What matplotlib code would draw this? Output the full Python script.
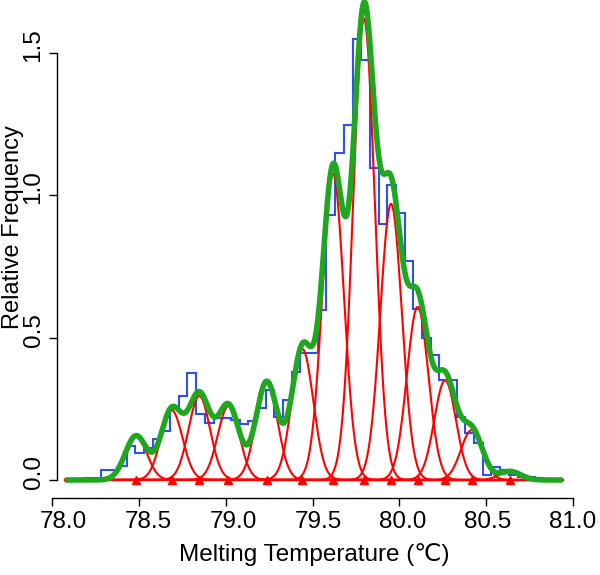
import numpy as np
import matplotlib
matplotlib.use("Agg")
import matplotlib.pyplot as plt
from matplotlib.transforms import ScaledTranslation

plt.rcParams['font.family'] = ['Liberation Sans', 'DejaVu Sans']

# histogram of melting temperatures (bin left edges 0.05 wide)
bin_edges = np.round(np.arange(78.18, 80.84, 0.05), 2)
hist_vals = [0.008, 0.008, 0.035, 0.035, 0.049, 0.120, 0.094, 0.114, 0.143, 0.172,
             0.250, 0.295, 0.375, 0.231, 0.201, 0.217, 0.217, 0.211, 0.197, 0.208,
             0.252, 0.316, 0.222, 0.281, 0.380, 0.445, 0.445, 0.597, 0.931, 1.148,
             1.247, 1.548, 1.475, 1.095, 0.900, 1.036, 0.937, 0.769, 0.600, 0.500,
             0.440, 0.350, 0.350, 0.222, 0.164, 0.129, 0.018, 0.047, 0.035, 0.018,
             0.010, 0.010, 0.007]

# fitted gaussian components
peak_centers = [78.484, 78.689, 78.848, 79.016, 79.236, 79.442, 79.618,
                79.796, 79.952, 80.105, 80.263, 80.416, 80.637]
peak_heights = [0.155, 0.245, 0.295, 0.260, 0.345, 0.460, 1.077,
                1.620, 0.970, 0.608, 0.350, 0.175, 0.030]
peak_sigmas = [0.062, 0.062, 0.062, 0.062, 0.062, 0.062, 0.062,
               0.062, 0.062, 0.062, 0.062, 0.062, 0.062]
fit_range = (78.075, 80.94)

x_ticks = [78.0, 78.5, 79.0, 79.5, 80.0, 80.5, 81.0]
x_ticklabels = ['78.0', '78.5', '79.0', '79.5', '80.0', '80.5', '81.0']
y_ticks = [0.0, 0.5, 1.0, 1.5]
y_ticklabels = ['0.0', '0.5', '1.0', '1.5']

xs = np.linspace(fit_range[0], fit_range[1], 800)
comps = [h * np.exp(-(xs - c) ** 2 / (2 * s ** 2))
         for c, h, s in zip(peak_centers, peak_heights, peak_sigmas)]
total = np.sum(comps, axis=0)

fig = plt.figure(figsize=(6, 5.75), dpi=100)
W, H = 600, 575
ax = fig.add_axes([52 / W, (H - 498) / H, 528 / W, 498 / H])

ax.stairs(hist_vals, bin_edges[:len(hist_vals) + 1], baseline=None,
          color='#2D50F5', linewidth=1.5)
for comp in comps:
    ax.plot(xs, comp, color='#FF0000', linewidth=1.5)
ax.plot(peak_centers, np.zeros(len(peak_centers)), linestyle='none', marker='^',
        color='#FF0000', markersize=6)
ax.plot(xs, total, color='#1FA81F', linewidth=4, clip_on=False,
        solid_capstyle='butt')

ax.set_xlim(78.0, 78.0 + 528 / 173.7)
ax.set_ylim((480 - 498) / 284.7, 480 / 284.7)
ax.spines['top'].set_visible(False)
ax.spines['right'].set_visible(False)
ax.spines['left'].set_position(('data', 78.0 + 5 / 173.7))
ax.spines['left'].set_bounds(0, 1.5)
ax.spines['bottom'].set_bounds(78, 81)
for sp in ('left', 'bottom'):
    ax.spines[sp].set_linewidth(1.0)
ax.set_xticks(x_ticks)
ax.set_xticklabels(x_ticklabels)
ax.set_yticks(y_ticks)
ax.set_yticklabels(y_ticklabels, rotation=90, va='center')
ax.tick_params(length=6, width=1.0, labelsize=17.5, pad=3)
ax.patch.set_visible(False)

# nudge tick labels like in the original rendering
n = len(x_ticks)
for i, lbl in enumerate(ax.get_xticklabels()):
    dx = 11 * (1 - i / (n - 1)) / 100
    lbl.set_transform(lbl.get_transform() + ScaledTranslation(dx, 0, fig.dpi_scale_trans))
for lbl in ax.get_yticklabels():
    lbl.set_transform(lbl.get_transform() + ScaledTranslation(0, 0.08, fig.dpi_scale_trans))

fig.text(314 / W, 1 - 555 / H, 'Melting Temperature (\u2103)', ha='center', va='center',
         fontsize=17.5)
fig.text(13 / W, 1 - 227 / H, 'Relative Frequency', ha='center', va='center',
         rotation=90, fontsize=17)

fig.savefig('out.png', dpi=100)
